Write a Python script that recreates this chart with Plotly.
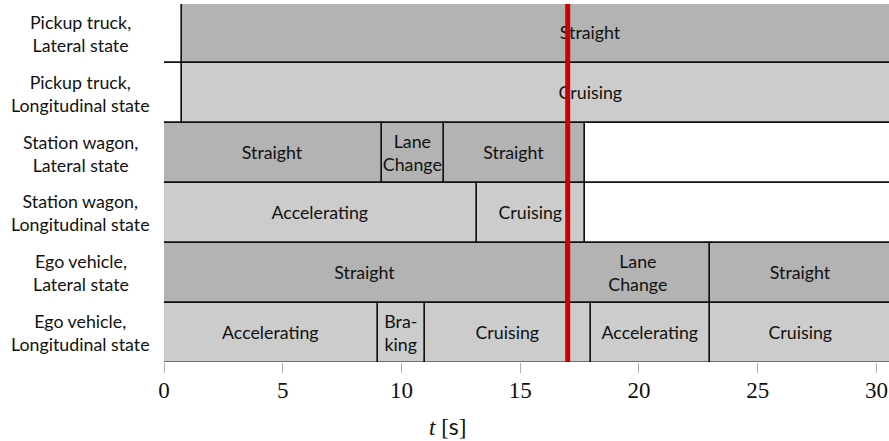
import plotly.graph_objects as go

# Row labels, top to bottom
row_labels = [
    "Pickup truck,<br>Lateral state",
    "Pickup truck,<br>Longitudinal state",
    "Station wagon,<br>Lateral state",
    "Station wagon,<br>Longitudinal state",
    "Ego vehicle,<br>Lateral state",
    "Ego vehicle,<br>Longitudinal state",
]
row_kind = ["lat", "lon", "lat", "lon", "lat", "lon"]

# Segments per row: start, end [s], state label ("" = no state)
pickup_lat_start = [-1.0, 0.77]
pickup_lat_end = [0.77, 35.2]
pickup_lat_state = ["", "Straight"]

pickup_lon_start = [-1.0, 0.77]
pickup_lon_end = [0.77, 35.2]
pickup_lon_state = ["", "Cruising"]

wagon_lat_start = [0.0, 9.18, 11.79, 17.71]
wagon_lat_end = [9.18, 11.79, 17.71, 32.0]
wagon_lat_state = ["Straight", "Lane<br>Change", "Straight", ""]

wagon_lon_start = [0.0, 13.19, 17.71]
wagon_lon_end = [13.19, 17.71, 32.0]
wagon_lon_state = ["Accelerating", "Cruising", ""]

ego_lat_start = [0.0, 16.95, 23.0]
ego_lat_end = [16.95, 23.0, 30.65]
ego_lat_state = ["Straight", "Lane<br>Change", "Straight"]

ego_lon_start = [0.0, 9.0, 11.0, 18.0, 23.0]
ego_lon_end = [9.0, 11.0, 18.0, 23.0, 30.65]
ego_lon_state = ["Accelerating", "Bra-<br>king", "Cruising", "Accelerating", "Cruising"]

marker_time = 17.0
x_ticks = [0, 5, 10, 15, 20, 25, 30]

rows = [
    (pickup_lat_start, pickup_lat_end, pickup_lat_state),
    (pickup_lon_start, pickup_lon_end, pickup_lon_state),
    (wagon_lat_start, wagon_lat_end, wagon_lat_state),
    (wagon_lon_start, wagon_lon_end, wagon_lon_state),
    (ego_lat_start, ego_lat_end, ego_lat_state),
    (ego_lon_start, ego_lon_end, ego_lon_state),
]

fill = {"lat": "#b3b3b3", "lon": "#cccccc"}
SANS = "Lato, 'DejaVu Sans', sans-serif"
SERIF = "'Liberation Serif', 'DejaVu Serif', serif"

ys, bases, widths, texts, colors = [], [], [], [], []
n = len(rows)
for i, (st, en, lab) in enumerate(rows):
    for s, e, l in zip(st, en, lab):
        ys.append(n - 1 - i)
        bases.append(s)
        widths.append(e - s)
        texts.append(l)
        colors.append(fill[row_kind[i]] if l else "#ffffff")

fig = go.Figure()
fig.add_trace(go.Bar(
    orientation="h",
    y=ys, x=widths, base=bases,
    width=1.0,
    marker=dict(color=colors, line=dict(color="#111111", width=1.4)),
    text=texts,
    textposition="inside",
    insidetextanchor="middle",
    constraintext="none",
    textangle=0,
    textfont=dict(family=SANS, size=17.8, color="#111111"),
    hoverinfo="skip",
    showlegend=False,
))

fig.add_shape(type="line", x0=marker_time, x1=marker_time, y0=0, y1=1,
              xref="x", yref="paper", line=dict(color="#cc0000", width=5),
              layer="above")

for i, lab in enumerate(row_labels):
    fig.add_annotation(text=lab, xref="paper", yref="y",
                       x=-0.1151, y=n - 1 - i, xanchor="center", yanchor="middle",
                       align="center", showarrow=False,
                       font=dict(family=SANS, size=17.8, color="#111111"))

fig.add_annotation(text="<i>t</i> [<span style='font-family:Lato'>s</span>]",
                   xref="paper", yref="paper", x=0.3908, y=-0.18,
                   xanchor="center", yanchor="middle", showarrow=False,
                   font=dict(family=SERIF, size=23, color="#111111"))

fig.update_layout(
    width=889, height=441,
    margin=dict(l=163.5, r=0, t=4.2, b=78.6),
    plot_bgcolor="white", paper_bgcolor="white",
    bargap=0,
)
fig.update_xaxes(range=[0, 30.53], tickvals=x_ticks, ticks="outside", ticklen=10,
                 tickcolor="#b0b0b0", tickwidth=1, showgrid=False, zeroline=False,
                 showline=False, ticklabelstandoff=-3,
                 tickfont=dict(family=SERIF, size=23, color="#111111"))
fig.update_yaxes(range=[-0.485, 5.485], showticklabels=False, showgrid=False,
                 zeroline=False, showline=False, ticks="")

fig.write_html("out.html", config={"displayModeBar": False},
               post_script="document.body.style.margin='0';document.body.style.overflow='hidden';")
